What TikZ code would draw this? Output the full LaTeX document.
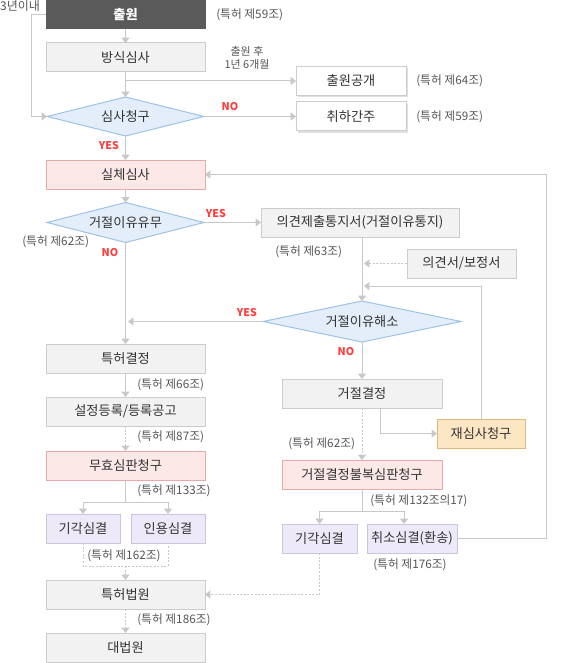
\documentclass[tikz,border=0pt]{standalone}
\usepackage{fontspec}
\setmainfont{Noto Sans CJK KR}
\usetikzlibrary{shapes.geometric,arrows.meta,shadows}
\definecolor{gbf}{HTML}{F2F2F2}
\definecolor{gbd}{HTML}{CCCCCC}
\definecolor{dkf}{HTML}{5A5A5A}
\definecolor{dbf}{HTML}{E3EEFA}
\definecolor{dbd}{HTML}{9EC2E6}
\definecolor{pbf}{HTML}{FDE8E8}
\definecolor{pbd}{HTML}{E6AAAA}
\definecolor{lbf}{HTML}{EEE9F8}
\definecolor{lbd}{HTML}{CCC5DD}
\definecolor{obf}{HTML}{FDE6C3}
\definecolor{obd}{HTML}{E2B77D}
\definecolor{ln}{HTML}{C8C8C8}
\definecolor{txt}{HTML}{333333}
\definecolor{nt}{HTML}{555555}
\definecolor{rd}{HTML}{FF3C3C}
\begin{document}
\begin{tikzpicture}[x=0.75pt,y=-0.75pt,
  sz/.style 2 args={minimum width=#1*0.75pt, minimum height=#2*0.75pt},
  base/.style={rectangle, draw, inner sep=0pt, outer sep=0pt, line width=0.75pt, text=txt, font=\fontsize{9.9}{11.5}\selectfont},
  gbox/.style={base, draw=gbd, fill=gbf},
  dbox/.style={base, draw=dkf, fill=dkf, text=white, font=\fontsize{9.9}{11.5}\selectfont\bfseries},
  wbox/.style={base, draw=gbd, fill=white, drop shadow={shadow xshift=1.5pt, shadow yshift=-1.5pt, fill=black!12, opacity=1}},
  pbox/.style={base, draw=pbd, fill=pbf},
  lbox/.style={base, draw=lbd, fill=lbf},
  obox/.style={base, draw=obd, fill=obf},
  dia/.style={diamond, aspect=4, draw=dbd, fill=dbf, inner sep=0pt, outer sep=0pt, line width=0.75pt, text=txt, font=\fontsize{9.9}{11.5}\selectfont},
  conn/.style={draw=ln, line width=0.75pt},
  arr/.style={conn, -{Triangle[width=6pt,length=4pt]}},
  dotarr/.style={arr, dash pattern=on 1.5pt off 1.2pt},
  dotline/.style={conn, dash pattern=on 1.5pt off 1.2pt},
  note/.style={inner sep=0pt, text=nt, font=\fontsize{8.8}{10}\selectfont, anchor=west},
  yn/.style={inner sep=0pt, text=rd, font=\fontsize{8}{9.5}\selectfont\bfseries}
]
\useasboundingbox (0,0) rectangle (570,663);

% left column
\node[dbox, sz={159}{29}] (a1) at (125.5,14.5) {출원};
\node[gbox, sz={159}{29}] (a2) at (125.5,57.5) {방식심사};
\node[dia, sz={157}{39}] (d1) at (125.5,116.5) {심사청구};
\node[pbox, sz={159}{29}] (a3) at (125.5,174.5) {실체심사};
\node[dia, sz={157}{40}] (d2) at (125.5,222.5) {거절이유유무};
\node[gbox, sz={159}{29}] (a4) at (125.5,358.5) {특허결정};
\node[gbox, sz={159}{29}] (a5) at (125.5,411.5) {설정등록/등록공고};
\node[pbox, sz={159}{29}] (a6) at (125.5,465.5) {무효심판청구};
\node[lbox, sz={74}{29}] (a7) at (83,528.5) {기각심결};
\node[lbox, sz={74}{29}] (a8) at (168,528.5) {인용심결};
\node[gbox, sz={159}{29}] (a9) at (125.5,594.5) {특허법원};
\node[gbox, sz={159}{29}] (a10) at (125.5,647.5) {대법원};

% right side
\node[wbox, sz={110}{29}] (r1) at (351,81) {출원공개};
\node[wbox, sz={110}{29}] (r2) at (351,116.5) {취하간주};
\node[gbox, sz={198}{29}] (b1) at (360,222.5) {의견제출통지서(거절이유통지)};
\node[gbox, sz={109}{29}] (b2) at (461.5,263.5) {의견서/보정서};
\node[dia, sz={198}{41}] (d3) at (362,321.5) {거절이유해소};
\node[gbox, sz={160}{29}] (b3) at (362,393.5) {거절결정};
\node[obox, sz={88}{29}] (b4) at (481,433.5) {재심사청구};
\node[pbox, sz={160}{29}] (b5) at (362,474.5) {거절결정불복심판청구};
\node[lbox, sz={75}{29}] (b6) at (319.5,538.5) {기각심결};
\node[lbox, sz={90}{29}] (b7) at (412,538.5) {취소심결(환송)};

% helper coordinates
\coordinate (k1) at (31,0);
\coordinate (m1) at (128,321.5);
\coordinate (m2) at (364,263.5);
\coordinate (m3) at (364,286);
\coordinate (m4) at (380,0);
\coordinate (m5) at (546,0);
\coordinate (s1) at (125.5,502);
\coordinate (s2) at (362,511);
\coordinate (s3) at (125.5,566);
\coordinate (t7) at (404,524);

% connectors
\draw[arr] (a1) -- (a2);
\draw[arr] (a2) -- (d1);
\draw[arr] (a2.south |- r1.west) -- (r1.west);
\draw[arr] (a1.west) -- (a1.west -| k1) -- (d1.west -| k1) -- (d1.west);
\draw[arr] (d1.east) -- (r2.west);
\draw[arr] (d1.south) -- (a3.north);
\draw[arr] (a3) -- (d2);
\draw[arr] (d2.east) -- (b1.west);
\draw[arr] (d2.south) -- (a4.north);
\draw[arr] (d3.west) -- (m1);
\draw[arr] (d3.north |- b1.south) -- (d3.north);
\draw[dotarr] (b2.west) -- (m2);
\draw[arr] (b4.north) |- (m3);
\draw[arr] (d3.south) -- (b3.north);
\draw[arr] (b3.south -| m4) |- (b4.west);
\draw[dotarr] (b3.south) -- (b5.north);
\draw[conn] (b5.south) -- (s2);
\draw[arr] (s2) -| (b6.north);
\draw[arr] (s2) -| (t7);
\draw[arr] (b7.east) -- (b7.east -| m5) |- (a3.east);
\draw[dotarr] (b6.south) |- (a9.east);
\draw[arr] (a4) -- (a5);
\draw[dotarr] (a5) -- (a6);
\draw[conn] (a6.south) -- (s1);
\draw[arr] (s1) -| (a7.north);
\draw[arr] (s1) -| (a8.north);
\draw[dotline] (a7.south) |- (s3) -| (a8.south);
\draw[dotarr] (s3) -- (a9.north);
\draw[dotarr] (a9) -- (a10);

% labels
\node[inner sep=0pt, text=nt, font=\fontsize{9}{10}\selectfont] (l0) at (20,6) {3년이내};
\node[note] (n1) at (216,15) {(특허 제59조)};
\node[inner sep=0pt, text=nt, font=\fontsize{8.2}{9.2}\selectfont, align=center] (n2) at (247,58) {출원 후\\1년 6개월};
\node[note] (n3) at (416,81) {(특허 제64조)};
\node[note] (n4) at (416,116.5) {(특허 제59조)};
\node[note] (n5) at (22,242) {(특허 제62조)};
\node[note] (n6) at (275,252) {(특허 제63조)};
\node[note] (n7) at (137,385) {(특허 제66조)};
\node[note] (n8) at (137,437) {(특허 제87조)};
\node[note] (n9) at (137,491) {(특허 제133조)};
\node[note] (n10) at (87,556) {(특허 제162조)};
\node[note] (n11) at (137,620) {(특허 제186조)};
\node[note] (n12) at (288,444) {(특허 제62조)};
\node[note] (n13) at (370,501) {(특허 제132조의17)};
\node[note] (n14) at (373,565) {(특허 제176조)};
\node[yn] (y1) at (230,107) {NO};
\node[yn] (y2) at (109,146) {YES};
\node[yn] (y3) at (216,214) {YES};
\node[yn] (y4) at (110,253) {NO};
\node[yn] (y5) at (247,313) {YES};
\node[yn] (y6) at (346,352) {NO};
\end{tikzpicture}
\end{document}
